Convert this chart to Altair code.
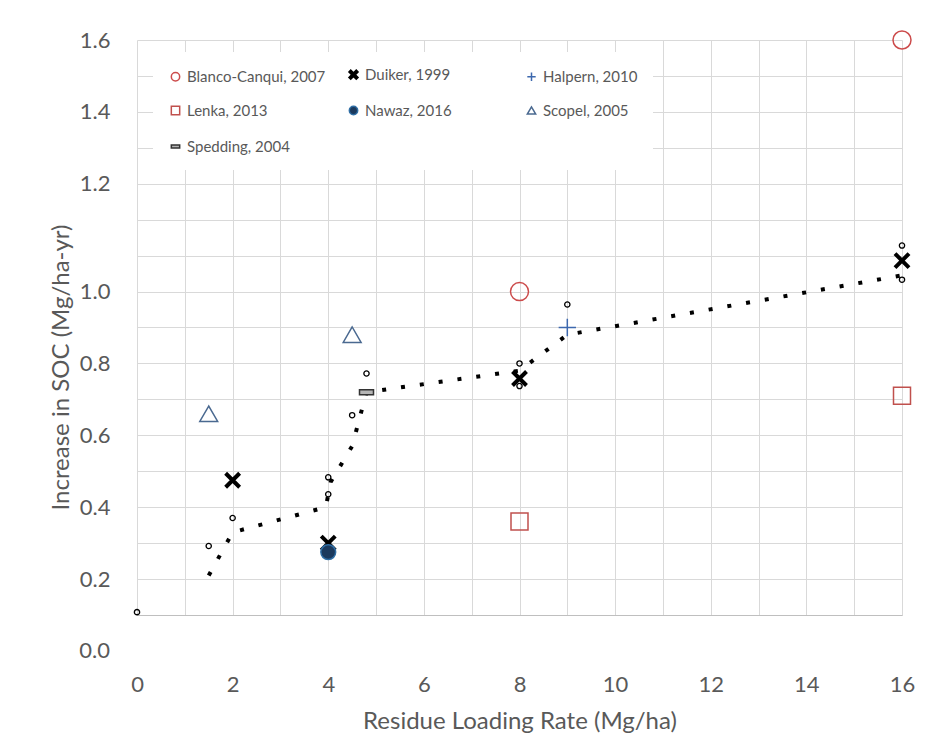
import altair as alt
import pandas as pd

# ---- data ----
studies = ["Blanco-Canqui, 2007", "Duiker, 1999", "Halpern, 2010", "Lenka, 2013",
           "Nawaz, 2016", "Scopel, 2005", "Spedding, 2004"]

blanco_x = [8, 16]
blanco_y = [1.0, 1.7]
duiker_x = [2, 4, 8, 16]
duiker_y = [0.475, 0.30, 0.758, 1.086]
halpern_x = [9]
halpern_y = [0.90]
lenka_x = [8, 16]
lenka_y = [0.36, 0.71]
nawaz_x = [4]
nawaz_y = [0.275]
scopel_x = [1.5, 4.5]
scopel_y = [0.66, 0.88]
spedding_x = [4.8]
spedding_y = [0.72]

# small open circles (not in legend)
other_x = [0, 1.5, 2, 4, 4, 4.5, 4.8, 8, 8, 9, 16, 16]
other_y = [0.108, 0.292, 0.37, 0.483, 0.436, 0.656, 0.772, 0.80, 0.737, 0.964, 1.128, 1.033]

# dotted trend line
trend_x = [1.5, 2.0, 3.95, 4.05, 4.5, 4.8, 8.0, 9.0, 16.0]
trend_y = [0.21, 0.33, 0.40, 0.47, 0.57, 0.72, 0.78, 0.88, 1.045]

# axis ticks / labels
x_grid_values = [0, 1, 2, 3, 4, 5, 6, 7, 8, 9, 10, 11, 12, 13, 14, 15, 16]
x_label_values = [0, 2, 4, 6, 8, 10, 12, 14, 16]
y_grid_values = [0.1, 0.2, 0.3, 0.4, 0.5, 0.6, 0.7, 0.8, 0.9, 1.0,
                 1.1, 1.2, 1.3, 1.4, 1.5, 1.6, 1.7]
y_label_values = [0.2, 0.4, 0.6, 0.8, 1.0, 1.3, 1.5, 1.7]
y_label_texts = ["0.2", "0.4", "0.6", "0.8", "1.0", "1.2", "1.4", "1.6"]
y_extra_label_value = [0.0]
y_extra_label_text = ["0.0"]

# ---- styling per study ----
x_path = "M-1,-1L1,1M1,-1L-1,1"
plus_path = "M-1,0L1,0M0,-1L0,1"
dash_path = "M-1,-0.35L1,-0.35L1,0.35L-1,0.35Z"
shapes = ["circle", x_path, plus_path, "square", "circle", "triangle-up", dash_path]
strokes = ["#CC4B4B", "#000000", "#3D68AE", "#C0504D", "#2F6EA5", "#4A6990", "#333333"]
fills = ["transparent", "transparent", "transparent", "transparent", "#1B3A5E",
         "transparent", "#b5b5b5"]
widths = [1.5, 4, 1.5, 1.5, 1.5, 1.5, 1.5]
sizes = [324, 196, 300, 289, 220, 320, 196]   # in the (alphabetical) order of studies

rows = []
for name, xs, ys in zip(studies,
                        [blanco_x, duiker_x, halpern_x, lenka_x, nawaz_x, scopel_x, spedding_x],
                        [blanco_y, duiker_y, halpern_y, lenka_y, nawaz_y, scopel_y, spedding_y]):
    for a, b in zip(xs, ys):
        rows.append({"study": name, "sz": name, "x": a, "y": b})
df = pd.DataFrame(rows)
other_df = pd.DataFrame({"x": other_x, "y": other_y})
trend_df = pd.DataFrame({"x": trend_x, "y": trend_y, "i": list(range(len(trend_x)))})
zero_df = pd.DataFrame({"y": y_extra_label_value, "t": y_extra_label_text})

FONT = "Lato"
GREY = "#595959"

y_expr = " : ".join(f"abs(datum.value - {v}) < 0.001 ? '{t}'"
                    for v, t in zip(y_label_values, y_label_texts)) + " : ''"
x_expr = " : ".join(f"abs(datum.value - {v}) < 0.001 ? '{v}'"
                    for v in x_label_values) + " : ''"

x_scale = alt.Scale(domain=[0, 16], nice=False, zero=False)
y_scale = alt.Scale(domain=[0.1, 1.7], nice=False, zero=False)

x_axis = alt.Axis(values=x_grid_values, labelExpr=x_expr, title="Residue Loading Rate (Mg/ha)",
                  grid=True, gridColor="#d9d9d9", ticks=False, domain=True, domainColor="#bfbfbf",
                  labelFont=FONT, labelFontSize=22, labelColor=GREY, labelPadding=59,
                  labelFlush=False, labelOverlap=False,
                  titleFont=FONT, titleFontSize=24, titleFontWeight="normal", titleColor=GREY,
                  titlePadding=14)
y_axis = alt.Axis(values=y_grid_values, labelExpr=y_expr, title="Increase in SOC (Mg/ha-yr)",
                  grid=True, gridColor="#d9d9d9", ticks=False, domain=False,
                  labelFont=FONT, labelFontSize=22, labelColor=GREY, labelPadding=27,
                  labelFlush=False, labelOverlap=False,
                  titleFont=FONT, titleFontSize=24, titleFontWeight="normal", titleColor=GREY,
                  titleX=-64, titleY=327)

X = alt.X("x:Q", scale=x_scale, axis=x_axis)
Y = alt.Y("y:Q", scale=y_scale, axis=y_axis)

trend = alt.Chart(trend_df).mark_line(
    color="black", strokeWidth=4, strokeDash=[4, 15], strokeCap="butt"
).encode(x=X, y=Y, order="i:Q")

small = alt.Chart(other_df).mark_point(
    shape="circle", size=28, stroke="black", strokeWidth=1.3, fill="transparent", opacity=1
).encode(x=X, y=Y)

legend = alt.Legend(title=None, orient="none", legendX=16, legendY=12, columns=3,
                    direction="horizontal",
                    gridAlign="all", columnPadding=15, rowPadding=16, padding=15,
                    fillColor="white", labelFont=FONT, labelFontSize=15, labelColor=GREY,
                    symbolSize=70, labelOffset=4)

pts = alt.Chart(df).mark_point(filled=True, opacity=1).encode(
    x=X, y=Y,
    shape=alt.Shape("study:N", scale=alt.Scale(domain=studies, range=shapes), legend=legend),
    stroke=alt.Stroke("study:N", scale=alt.Scale(domain=studies, range=strokes), legend=legend),
    fill=alt.Fill("study:N", scale=alt.Scale(domain=studies, range=fills), legend=legend),
    strokeWidth=alt.StrokeWidth("study:N",
                                scale=alt.Scale(type="ordinal", domain=studies, range=widths),
                                legend=legend),
    size=alt.Size("sz:N", scale=alt.Scale(type="ordinal", range=sizes), legend=None),
)

zero_label = alt.Chart(zero_df).mark_text(
    align="right", baseline="middle", font=FONT, fontSize=22, color=GREY
).encode(x=alt.value(-27), y=Y, text="t:N")

chart = alt.layer(trend, small, pts, zero_label).properties(
    width=765, height=575,
    autosize=alt.AutoSizeParams(type="none"),
    padding={"left": 129, "top": 32, "right": 20, "bottom": 120},
).configure_view(stroke=None)

chart.save("out.html", embed_options={"renderer": "svg", "actions": False})
